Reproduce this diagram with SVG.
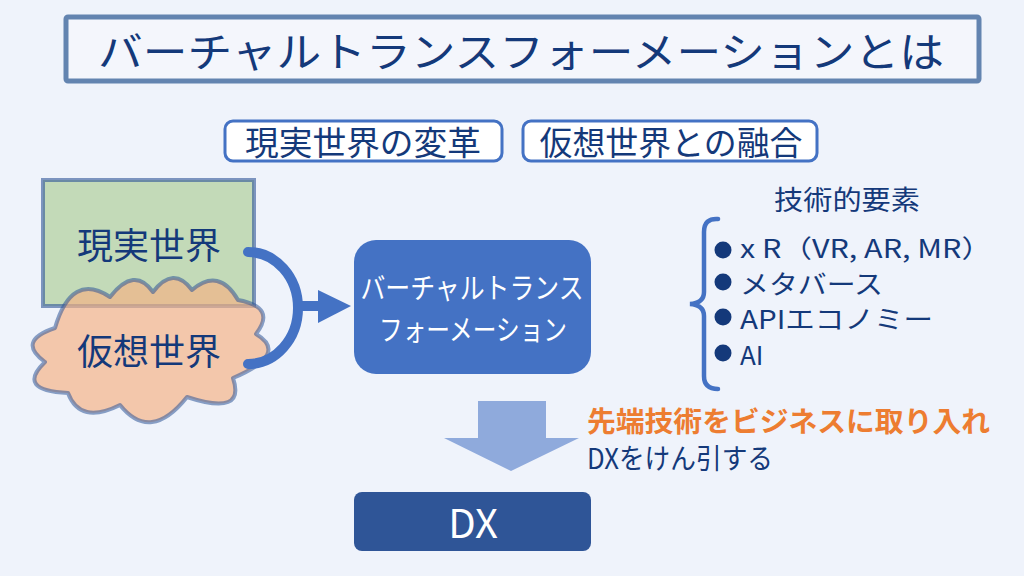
<svg xmlns="http://www.w3.org/2000/svg" width="1024" height="576" viewBox="0 0 1024 576">
<defs>
<style>
.t{font-family:"Noto Sans CJK JP","Noto Sans",sans-serif;fill:#14397A;dominant-baseline:central}
.w{fill:#FFFFFF}
.sub{fill:#FFFFFF;stroke:#4472C4;stroke-width:3}
</style>
</defs>
<rect width="1024" height="576" fill="#EFF3FB"/>
<g id="title">
<rect x="66" y="17" width="913" height="64" rx="2" fill="#F4F6FC" stroke="#6384B0" stroke-width="5"/>
<text class="t" x="98" y="49" font-size="41" textLength="846" lengthAdjust="spacingAndGlyphs">バーチャルトランスフォーメーションとは</text>
</g>
<g id="sub1">
<rect class="sub" x="225" y="121" width="277" height="40" rx="8"/>
<text class="t" x="363" y="141" font-size="33" text-anchor="middle" textLength="236" lengthAdjust="spacingAndGlyphs">現実世界の変革</text>
</g>
<g id="sub2">
<rect class="sub" x="523" y="121" width="294" height="40" rx="8"/>
<text class="t" x="671" y="141" font-size="33" text-anchor="middle" textLength="263" lengthAdjust="spacingAndGlyphs">仮想世界との融合</text>
</g>
<g id="real">
<rect x="43" y="180" width="211" height="126" fill="#C3DAB8" stroke="#2F5597" stroke-opacity="0.6" stroke-width="4"/>
<text class="t" x="149" y="243" font-size="36" text-anchor="middle">現実世界</text>
</g>
<g id="virtual">
<path d="M55,328 Q71.5,271.5 110,297 Q134.5,265.5 153,292 Q173.5,265 192,290 Q219,267 238,300 Q277,307 256,334 Q289.5,354 233,378 Q246,416.5 187,397 Q150.5,443 120,405 Q80,425 68,393 Q15.5,390.5 45,362 Q16,341 55,328 Z" fill="#F4B183" fill-opacity="0.67" stroke="#2F5597" stroke-opacity="0.55" stroke-width="4" stroke-linejoin="round"/>
<text class="t" x="149" y="349" font-size="36" text-anchor="middle">仮想世界</text>
</g>
<g id="connectors">
<path d="M248,252 A50 56 0 0 1 248,364" fill="none" stroke="#4472C4" stroke-width="10" stroke-linecap="round"/>
<line x1="296" y1="306" x2="322" y2="306" stroke="#4472C4" stroke-width="10"/>
<polygon points="318,290 351,306 318,323" fill="#4472C4"/>
<path d="M718,219 Q704,218 704,232 L704,292 Q704,303 690,304 Q704,305 704,316 L704,376 Q704,389 718,389" fill="none" stroke="#4472C4" stroke-width="4.5" stroke-linecap="round"/>
<polygon points="478,401 546,401 546,438 579,438 511,471 444,438 478,438" fill="#8FAADC"/>
</g>
<g id="vt">
<rect x="354" y="240" width="237" height="134" rx="22" fill="#4472C4"/>
<text class="t w" x="472" y="286" font-size="29" text-anchor="middle" textLength="223" lengthAdjust="spacingAndGlyphs">バーチャルトランス</text>
<text class="t w" x="473" y="328" font-size="29" text-anchor="middle" textLength="188" lengthAdjust="spacingAndGlyphs">フォーメーション</text>
</g>
<g id="tech">
<text class="t" x="847" y="198" font-size="27" text-anchor="middle" textLength="146" lengthAdjust="spacingAndGlyphs">技術的要素</text>
<circle cx="723" cy="250" r="8.5" fill="#14397A"/>
<circle cx="723" cy="282" r="8.5" fill="#14397A"/>
<circle cx="723" cy="317" r="8.5" fill="#14397A"/>
<circle cx="723" cy="353" r="8.5" fill="#14397A"/>
<text class="t" x="740" y="247" font-size="25" textLength="252" lengthAdjust="spacingAndGlyphs">x R（VR, AR, MR）</text>
<text class="t" x="740" y="282" font-size="26" textLength="143" lengthAdjust="spacingAndGlyphs">メタバース</text>
<text class="t" x="740" y="317" font-size="26" textLength="193" lengthAdjust="spacingAndGlyphs">APIエコノミー</text>
<text class="t" x="740" y="353" font-size="26">AI</text>
</g>
<g id="note">
<text class="t" x="587" y="420" font-size="28" font-weight="bold" style="fill:#ED7D31" textLength="403" lengthAdjust="spacingAndGlyphs">先端技術をビジネスに取り入れ</text>
<text class="t" x="587" y="457" font-size="28" textLength="186" lengthAdjust="spacingAndGlyphs">DXをけん引する</text>
</g>
<g id="dx">
<rect x="354" y="492" width="237" height="59" rx="8" fill="#2F5597"/>
<text class="t w" x="473" y="521" font-size="40" text-anchor="middle">DX</text>
</g>
</svg>
